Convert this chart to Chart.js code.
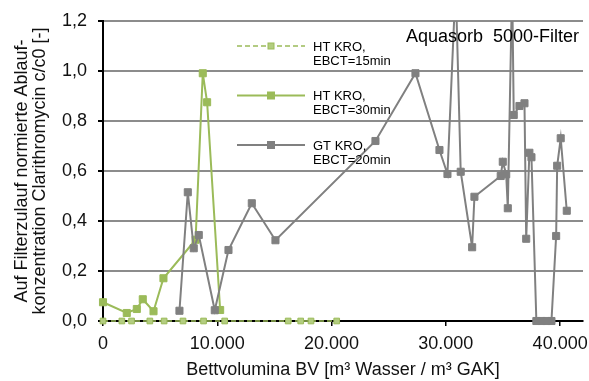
<!DOCTYPE html>
<html lang="de">
<head>
  <meta charset="UTF-8">
  <title>Aquasorb 5000-Filter</title>
  <style>
    html, body { margin: 0; padding: 0; background: #fff; }
    #wrap { width: 589px; height: 381px; position: relative; }
  </style>
</head>
<body>
  <div id="wrap"><canvas id="chart"></canvas></div>

  <script src="https://cdn.jsdelivr.net/npm/chart.js"></script>
  <script>
    // Daten (Bettvolumina BV und c/c0)
    const bv15 = [0, 1650, 2500, 4100, 5350, 7000, 8800, 10650, 16200, 17300, 18200, 20450];
    const c15  = [0, 0, 0, 0, 0, 0, 0, 0, 0, 0, 0, 0];

    const bv30 = [0, 2080, 2960, 3480, 4420, 5290, 8100, 8730, 9110, 10250];
    const c30  = [0.075, 0.032, 0.048, 0.087, 0.039, 0.171, 0.325, 0.991, 0.875, 0.044];

    const bv20 = [6690, 7420, 7940, 8380, 9780, 10980, 13020, 15090, 23840, 27340,
                  29440, 30140, 30860, 31300, 32300, 32500, 34800, 34980, 35280, 35420,
                  35800, 35940, 36440, 36880, 37030, 37310, 37490, 37920, 38360, 38790,
                  39240, 39650, 39740, 40050, 40580];
    const c20  = [0.041, 0.515, 0.291, 0.344, 0.043, 0.284, 0.471, 0.323, 0.72, 0.991,
                  0.684, 0.588, 1.35, 0.597, 0.295, 0.497, 0.58, 0.637, 0.587, 0.451,
                  1.35, 0.824, 0.86, 0.871, 0.329, 0.673, 0.655, 0, 0, 0,
                  0, 0.34, 0.621, 0.731, 0.441];

    const labels = ['HT KRO, EBCT=15min', 'HT KRO, EBCT=30min', 'GT KRO, EBCT=20min'];
    const xTicks = [0, 10000, 20000, 30000, 40000];
    const yTicks = [0, 0.2, 0.4, 0.6, 0.8, 1.0, 1.2];

    const GREEN = '#9bbb59';
    const GRAY  = '#808080';
    const FONT  = "'Liberation Sans', Arial, sans-serif";

    const pts = (xs, ys) => xs.map((x, i) => ({ x, y: ys[i] }));
    const fmtX = v => String(v).replace(/\B(?=(\d{3})+(?!\d))/g, '.');
    const fmtY = v => v.toFixed(1).replace('.', ',');
    const CLIP = { left: 10, right: 10, top: 0, bottom: 10 };

    // Legende + Titel selbst zeichnen
    const extras = {
      id: 'extras',
      afterDraw(chart) {
        const ctx = chart.ctx;
        ctx.save();
        ctx.fillStyle = '#000';
        ctx.textBaseline = 'middle';
        ctx.font = '18px ' + FONT;
        ctx.textAlign = 'right';
        ctx.fillText('Aquasorb  5000-Filter', 579, 37);

        const rows = [
          { y: 46, dash: [5, 3], color: GREEN, fill: '#b3cd80', size: 6, text: ['HT KRO,', 'EBCT=15min'] },
          { y: 95.5, dash: [], color: GREEN, fill: GREEN, size: 7, text: ['HT KRO,', 'EBCT=30min'] },
          { y: 145, dash: [], color: GRAY, fill: GRAY, size: 7, text: ['GT KRO,', 'EBCT=20min'] }
        ];
        ctx.textAlign = 'left';
        ctx.font = '13px ' + FONT;
        rows.forEach(r => {
          ctx.strokeStyle = r.color;
          ctx.lineWidth = r.dash.length ? 1.5 : 2;
          ctx.setLineDash(r.dash);
          ctx.beginPath();
          ctx.moveTo(237, r.y);
          ctx.lineTo(305, r.y);
          ctx.stroke();
          ctx.setLineDash([]);
          ctx.fillStyle = r.fill;
          ctx.fillRect(271 - r.size / 2, r.y - r.size / 2, r.size, r.size);
          ctx.lineWidth = 1;
          ctx.strokeRect(271 - r.size / 2, r.y - r.size / 2, r.size, r.size);
          ctx.fillStyle = '#000';
          ctx.fillText(r.text[0], 313, r.y + 1);
          ctx.fillText(r.text[1], 313, r.y + 15);
        });
        ctx.restore();
      }
    };

    new Chart(document.getElementById('chart'), {
      type: 'line',
      data: {
        datasets: [
          {
            label: labels[2],
            data: pts(bv20, c20),
            borderColor: GRAY,
            backgroundColor: GRAY,
            borderWidth: 2,
            pointStyle: 'rect',
            pointRadius: 5,
            pointBorderWidth: 1,
            clip: CLIP
          },
          {
            label: labels[1],
            data: pts(bv30, c30),
            borderColor: GREEN,
            backgroundColor: GREEN,
            borderWidth: 2,
            pointStyle: 'rect',
            pointRadius: 5,
            pointBorderWidth: 1,
            clip: CLIP
          },
          {
            label: labels[0],
            data: pts(bv15, c15),
            borderColor: GREEN,
            backgroundColor: '#b3cd80',
            borderWidth: 1.5,
            borderDash: [5, 3],
            pointStyle: 'rect',
            pointRadius: 4,
            pointBorderWidth: 1,
            clip: CLIP
          }
        ]
      },
      options: {
        responsive: true,
        maintainAspectRatio: false,
        animation: false,
        layout: { padding: { top: 21, right: 5, left: 0, bottom: 0 } },
        plugins: {
          legend: { display: false },
          tooltip: { enabled: false }
        },
        scales: {
          x: {
            type: 'linear',
            min: 0,
            max: 42000,
            afterBuildTicks: s => { s.ticks = xTicks.map(v => ({ value: v })); },
            afterFit: s => { s.height = 60; s.paddingLeft = 0; s.paddingRight = 0; },
            ticks: {
              callback: v => fmtX(v),
              color: '#111',
              font: { family: FONT, size: 18 },
              padding: 7,
              maxRotation: 0
            },
            grid: {
              drawOnChartArea: false,
              drawTicks: true,
              tickLength: 5,
              tickColor: '#000',
              lineWidth: 1.5
            },
            border: { color: '#000', width: 2 },
            title: {
              display: true,
              text: 'Bettvolumina BV [m³ Wasser / m³ GAK]',
              color: '#111',
              font: { family: FONT, size: 18 },
              padding: { top: 0, bottom: 0 }
            }
          },
          y: {
            min: 0,
            max: 1.2,
            afterBuildTicks: s => { s.ticks = yTicks.map(v => ({ value: v })); },
            afterFit: s => { s.width = 103; s.paddingTop = 0; s.paddingBottom = 0; },
            ticks: {
              callback: v => fmtY(v),
              color: '#111',
              font: { family: FONT, size: 18 },
              padding: 11
            },
            grid: {
              color: c => c.tick && c.tick.value === 0 ? 'rgba(0,0,0,0)' : '#8c8c8c',
              lineWidth: 2,
              tickLength: 5,
              tickColor: '#000'
            },
            border: { color: '#000', width: 2 },
            title: {
              display: true,
              text: ['Auf Filterzulauf normierte Ablauf-', 'konzentration Clarithromycin c/c0 [-]'],
              color: '#111',
              font: { family: FONT, size: 18, lineHeight: 1.0 },
              padding: { top: 13, bottom: 0 }
            }
          }
        }
      },
      plugins: [extras]
    });
  </script>
</body>
</html>
